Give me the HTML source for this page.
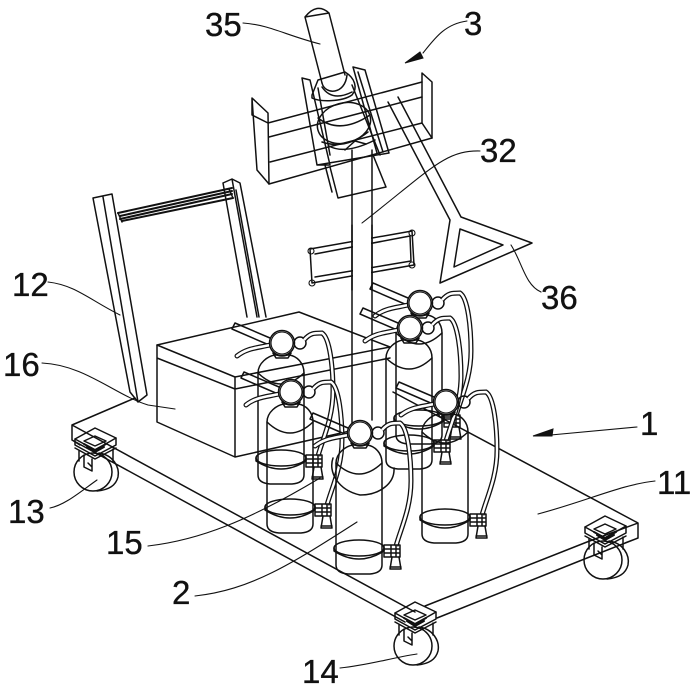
<!DOCTYPE html>
<html>
<head>
<meta charset="utf-8">
<style>
html,body{margin:0;padding:0;background:#fff}
svg{display:block}
.l{fill:none;stroke:#111;stroke-width:1.5;stroke-linejoin:round;stroke-linecap:round}
.t{fill:none;stroke:#111;stroke-width:1.1;stroke-linejoin:round;stroke-linecap:round}
text{font-family:"Liberation Sans",sans-serif;font-size:33px;fill:#111;stroke:#111;stroke-width:.35}
</style>
</head>
<body>
<svg width="694" height="687" viewBox="0 0 694 687" xmlns="http://www.w3.org/2000/svg">
<defs>
<g id="caster" class="l">
  <circle cx="-2" cy="33" r="19" class="t" style="stroke-width:1.5"/>
  <path d="M4,14 C18,16 25,28 23,38 C21,46 14,51 2,52"/>
  <path d="M-20,0 L0,-11 L21,-1 L0,11 Z"/>
  <path d="M-20,0 V6 L0,17 L21,6 V-1"/>
  <path d="M-20,9 L0,20 L21,9 M-11,2 L0,7 L11,2 L0,-3 Z"/>
  <path d="M-11,5 L0,11 L11,5 M-8,8 L0,13 L9,8" style="stroke-width:2"/>
  <path d="M-16,12 V22 M-11,16 V28 L-3,32 V20 M-7,24 L-3,28 M18,10 V22"/>
</g>
<g id="ext">
  <path class="l" d="M-24,132 V30 C-24,20 -14,13 -7,12 H7 C15,13 22,20 22,30 V132 Q22,140 10,141 H-12 Q-24,140 -24,132 Z"/>
  <path class="l" d="M-24,30 Q-1,52 22,30"/>
  <path class="l" d="M-9,10 L-6,15 H6 L9,10"/>
  <ellipse class="l" cx="-1" cy="115" rx="25" ry="8"/>
  <path class="l" d="M-26,115 V118 Q-1,134 24,118 V115"/>
  <path class="l" d="M-47,-20 L-12,-5 M-50,-14 L-47,-20 M-50,-14 L-13,2"/>
  <path d="M-45,13 C-35,5 -25,5 -12,2" fill="none" stroke="#111" stroke-width="5" stroke-linecap="round"/>
  <path d="M-45,13 C-35,5 -25,5 -12,2" fill="none" stroke="#fff" stroke-width="2.6" stroke-linecap="round"/>
  <circle class="l" cx="0" cy="0" r="12.5" style="fill:#fff"/>
  <circle class="t" cx="0" cy="0" r="11"/>
  <path class="l" d="M-9,10 Q0,16 9,10"/>
  <circle class="l" cx="18" cy="0" r="6"/>
  <path d="M22,-3 C28,-10 32,-10 40,-10 C48,-5 51,25 51,48 C51,75 41,95 36,113" fill="none" stroke="#111" stroke-width="5"/>
  <path d="M22,-3 C28,-10 32,-10 40,-10 C48,-5 51,25 51,48 C51,75 41,95 36,113" fill="none" stroke="#fff" stroke-width="2.4"/>
  <path class="l" d="M24,112 H40 V124 H24 Z M24,116 H40 M24,120 H40 M31,112 V124 M36,112 V124"/>
  <path class="l" d="M32,124 L30,136 H41 L39,124 M30,134 H41"/>
</g>
</defs>

<!-- platform -->
<g class="l">
  <path d="M72,425 L135,398 M72,425 V440 L80,445 M72,425 L415,612 M72,440 L405,622"/>
  <path d="M425,606 L587,542 M437,618 L587,558 M587,558 L638,538 V523 L393,392 M587,542 L638,523 M625,543 L638,538"/>
</g>

<!-- handle -->
<g class="l">
  <path d="M93,198 L112,194 L147,395 L138,402 L130,392 Z M103,197 L138,402"/>
  <path d="M223,183 L232,179 L240,183 L266,317 M223,183 L247,317 M232,179 L257,317 M236,190 L259,317"/>
  <path d="M118,213 L232,188 M120,216 L232,191 M120,219 L232,194 M122,221 L233,198" style="stroke-width:2"/>
  <path d="M118,213 L122,222 M229,189 L233,198"/>
</g>

<!-- box -->
<g class="l">
  <path d="M157,345 L299,312 L390,347 L235,377 Z"/>
  <path d="M157,345 V422 L235,457 V377 M157,358 L235,389 L390,358 M235,457 L350,431"/>
</g>

<!-- pole -->
<g class="l">
  <path d="M352,150 V432 M372,150 V420"/>
  <path d="M310,249 L412,231 L414,265 L312,283 Z M315,254 L410,236 L411,261 L315,277"/>
  <circle class="t" cx="311" cy="251" r="3"/><circle class="t" cx="412" cy="233" r="3"/>
  <circle class="t" cx="412" cy="265" r="3"/><circle class="t" cx="312" cy="283" r="3"/>
  <rect x="353" y="225" width="18" height="65" fill="#fff" stroke="none"/>
  <path d="M352,225 V290 M372,225 V290"/>
</g>

<!-- bracket -->
<g class="l">
  <path d="M305,17 Q317,2 329,13 L345,75 M305,17 L322,83 M305,17 L329,13"/>
  <path d="M252,98 L268,113 L269,184 L257,170 Z M252,98 V115 L268,123"/>
  <path d="M422,73 L432,82 V138 L422,123 Z M422,73 V123"/>
  <path d="M268,123 L422,82 M269,137 L422,97 M270,162 L422,123 M269,184 L432,138"/>
  <path d="M302,78 L310,80 L330,165 L317,165 Z M353,67 L365,70 L389,153 L317,165 M353,67 L377,153 M358,72 L383,152"/>
  <path d="M330,167 L338,198 L386,187 L373,155 M325,165 L332,192"/>
  <path d="M312,95 L318,80 L345,72 C355,78 358,88 352,95 C342,102 320,102 312,98 Z"/>
  <path d="M322,83 C325,95 345,95 347,75 M322,87 Q332,102 352,92"/>
  <ellipse cx="344" cy="123" rx="27" ry="20" transform="rotate(-15 344 123)"/>
  <path d="M318,118 Q340,135 370,115 M322,142 Q345,150 368,132 M329,146 Q345,155 375,140"/>
  <path d="M318,88 L330,155 M352,85 L380,155 M345,150 L355,141 L366,144"/>
</g>

<!-- arm + triangle -->
<g class="l">
  <path d="M388,102 L450,220 L440,283 L532,243 L461,217 L398,97"/>
  <path d="M460,229 L503,245 L454,267 Z"/>
</g>

<!-- extinguishers -->
<use href="#ext" x="420" y="303"/>
<use href="#ext" x="282" y="343"/>
<use href="#ext" x="410" y="328"/>
<use href="#ext" x="291" y="392"/>
<use href="#ext" x="446" y="402"/>
<use href="#ext" x="360" y="433"/>
<path class="l" d="M333,458 C328,472 338,490 360,495 C380,495 395,483 394,468"/>

<!-- casters -->
<use href="#caster" x="95" y="439"/>
<use href="#caster" x="605" y="527"/>
<use href="#caster" x="415" y="613"/>

<!-- leaders -->
<g class="t">
  <path d="M243,23 C270,25 285,35 320,44"/>
  <path d="M467,21 C445,24 435,38 423,53"/>
  <path d="M480,151 C445,150 430,170 362,223"/>
  <path d="M541,292 C525,285 522,262 511,245"/>
  <path d="M48,282 C75,285 90,300 120,315"/>
  <path d="M42,363 C85,365 115,395 148,405 L175,409"/>
  <path d="M637,427 L540,436"/>
  <path d="M655,481 C620,485 590,500 538,514"/>
  <path d="M50,508 C65,505 80,492 97,480"/>
  <path d="M148,546 C200,540 250,520 320,478"/>
  <path d="M195,596 C250,590 290,565 357,522"/>
  <path d="M340,668 C370,665 390,658 417,654"/>
</g>
<path d="M405,63 L420,52 L423,58 Z" fill="#111" stroke="#111"/>
<path d="M533,436 L553,429 L552,436 Z" fill="#111" stroke="#111"/>

<!-- labels -->
<text x="205" y="36">35</text>
<text x="464" y="35">3</text>
<text x="480" y="162">32</text>
<text x="541" y="309">36</text>
<text x="12" y="296">12</text>
<text x="3" y="376">16</text>
<text x="640" y="435">1</text>
<text x="657" y="494">11</text>
<text x="8" y="523">13</text>
<text x="106" y="554">15</text>
<text x="172" y="604">2</text>
<text x="302" y="683">14</text>
</svg>
</body>
</html>
